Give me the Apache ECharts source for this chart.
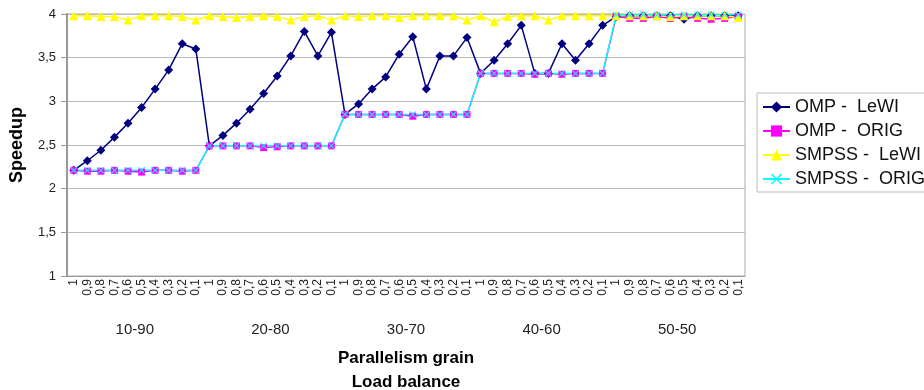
<!DOCTYPE html>
<html>
<head>
<meta charset="utf-8">
<script src="https://cdn.jsdelivr.net/npm/echarts@6/dist/echarts.min.js"></script>
<style>
  html, body { margin: 0; padding: 0; background: #fff; }
  #chart { width: 924px; height: 390px; }
</style>
</head>
<body>
<div id="chart"></div>
<script>
// load balance steps inside each grain group
const steps = ['1', '0,9', '0,8', '0,7', '0,6', '0,5', '0,4', '0,3', '0,2', '0,1'];
const groups = ['10-90', '20-80', '30-70', '40-60', '50-50'];

const ompLewi = [
    2.21, 2.32, 2.44, 2.59, 2.75, 2.93, 3.14, 3.36, 3.66, 3.60,
    2.49, 2.61, 2.75, 2.91, 3.09, 3.29, 3.52, 3.80, 3.52, 3.79,
    2.85, 2.97, 3.14, 3.28, 3.54, 3.74, 3.14, 3.52, 3.52, 3.73,
    3.32, 3.47, 3.66, 3.87, 3.32, 3.32, 3.66, 3.47, 3.66, 3.87,
    3.97, 3.98, 3.98, 3.98, 3.98, 3.94, 3.98, 3.98, 3.98, 3.98
];
const ompOrig = [
    2.21, 2.20, 2.20, 2.21, 2.20, 2.19, 2.21, 2.21, 2.20, 2.21,
    2.49, 2.49, 2.49, 2.49, 2.47, 2.48, 2.49, 2.49, 2.49, 2.49,
    2.85, 2.85, 2.85, 2.85, 2.85, 2.83, 2.85, 2.85, 2.85, 2.85,
    3.32, 3.32, 3.32, 3.32, 3.31, 3.32, 3.31, 3.32, 3.32, 3.32,
    3.97, 3.95, 3.95, 3.97, 3.95, 3.97, 3.95, 3.94, 3.95, 3.97
];
const smpssLewi = [
    3.98, 3.98, 3.97, 3.97, 3.93, 3.98, 3.98, 3.98, 3.97, 3.93,
    3.98, 3.97, 3.96, 3.97, 3.98, 3.97, 3.93, 3.97, 3.98, 3.93,
    3.98, 3.97, 3.98, 3.98, 3.96, 3.98, 3.98, 3.98, 3.98, 3.93,
    3.98, 3.91, 3.97, 3.98, 3.98, 3.93, 3.98, 3.98, 3.98, 3.98,
    3.98, 3.98, 3.98, 3.98, 3.97, 3.98, 3.98, 3.98, 3.98, 3.96
];
const smpssOrig = [
    2.21, 2.21, 2.21, 2.21, 2.21, 2.21, 2.21, 2.21, 2.21, 2.21,
    2.49, 2.49, 2.49, 2.49, 2.49, 2.49, 2.49, 2.49, 2.49, 2.49,
    2.85, 2.85, 2.85, 2.85, 2.85, 2.85, 2.85, 2.85, 2.85, 2.85,
    3.32, 3.32, 3.32, 3.32, 3.32, 3.32, 3.32, 3.32, 3.32, 3.32,
    3.99, 3.99, 3.99, 3.99, 3.99, 3.99, 3.99, 3.99, 3.99, 3.99
];

const categories = [];
groups.forEach(() => steps.forEach(s => categories.push(s)));

const FONT = 'Liberation Sans, Arial, sans-serif';
const crossSymbol = 'path://M0,1L1,0L5,4L9,0L10,1L6,5L10,9L9,10L5,6L1,10L0,9L4,5Z';

const mkSeries = (name, data, color, symbol, size) => ({
    name: name,
    type: 'line',
    data: data,
    symbol: symbol,
    symbolSize: size,
    showAllSymbol: true,
    lineStyle: { color: color, width: 1.5 },
    itemStyle: { color: color },
    animation: false
});

const chart = echarts.init(document.getElementById('chart'));
chart.setOption({
    backgroundColor: '#fff',
    textStyle: { fontFamily: FONT },
    grid: {
        left: 67, right: 179, top: 14, bottom: 114,
        show: true, borderColor: '#aaa', borderWidth: 1
    },
    legend: {
        orient: 'vertical',
        left: 757, top: 93,
        padding: [5, 60, 4, 5],
        itemGap: 6,
        itemWidth: 27,
        itemHeight: 14,
        borderColor: '#bbb',
        borderWidth: 1,
        textStyle: { fontSize: 18, color: '#111', fontFamily: FONT },
        data: ['OMP -  LeWI', 'OMP -  ORIG', 'SMPSS -  LeWI', 'SMPSS -  ORIG']
    },
    xAxis: [{
        type: 'category',
        data: categories,
        axisLine: { lineStyle: { color: '#999' } },
        axisTick: { interval: 0, length: 32, lineStyle: { color: '#aaa' } },
        axisLabel: { interval: 0, rotate: 90, fontSize: 12, margin: 3, color: '#222' },
        splitLine: { show: false }
    }, {
        type: 'category',
        data: groups,
        position: 'bottom',
        axisLine: { show: false },
        axisTick: { interval: 0, length: 64, lineStyle: { color: '#aaa' } },
        axisLabel: { interval: 0, fontSize: 15, margin: 46, color: '#222' },
        splitLine: { show: false }
    }],
    yAxis: {
        type: 'value',
        min: 1, max: 4, interval: 0.5,
        axisLine: { show: true, lineStyle: { color: '#999', width: 2 } },
        axisTick: { show: true, length: 6, lineStyle: { color: '#999' } },
        axisLabel: {
            fontSize: 13, color: '#222', margin: 11,
            formatter: v => String(v).replace('.', ',')
        },
        splitLine: { lineStyle: { color: '#bbb' } }
    },
    graphic: [{
        type: 'text', x: 17, y: 145, rotation: Math.PI / 2,
        style: { text: 'Speedup', font: 'bold 18px ' + FONT, fill: '#000', textAlign: 'center', textVerticalAlign: 'middle' }
    }, {
        type: 'text', x: 406, y: 358,
        style: { text: 'Parallelism grain', font: 'bold 17px ' + FONT, fill: '#000', textAlign: 'center', textVerticalAlign: 'middle' }
    }, {
        type: 'text', x: 406, y: 382,
        style: { text: 'Load balance', font: 'bold 17px ' + FONT, fill: '#000', textAlign: 'center', textVerticalAlign: 'middle' }
    }],
    series: [
        mkSeries('OMP -  LeWI', ompLewi, '#000080', 'diamond', 9),
        mkSeries('OMP -  ORIG', ompOrig, '#ff00ff', 'rect', 7),
        mkSeries('SMPSS -  LeWI', smpssLewi, '#ffff00', 'triangle', 9),
        mkSeries('SMPSS -  ORIG', smpssOrig, '#00ffff', crossSymbol, 7)
    ]
});
</script>
</body>
</html>
